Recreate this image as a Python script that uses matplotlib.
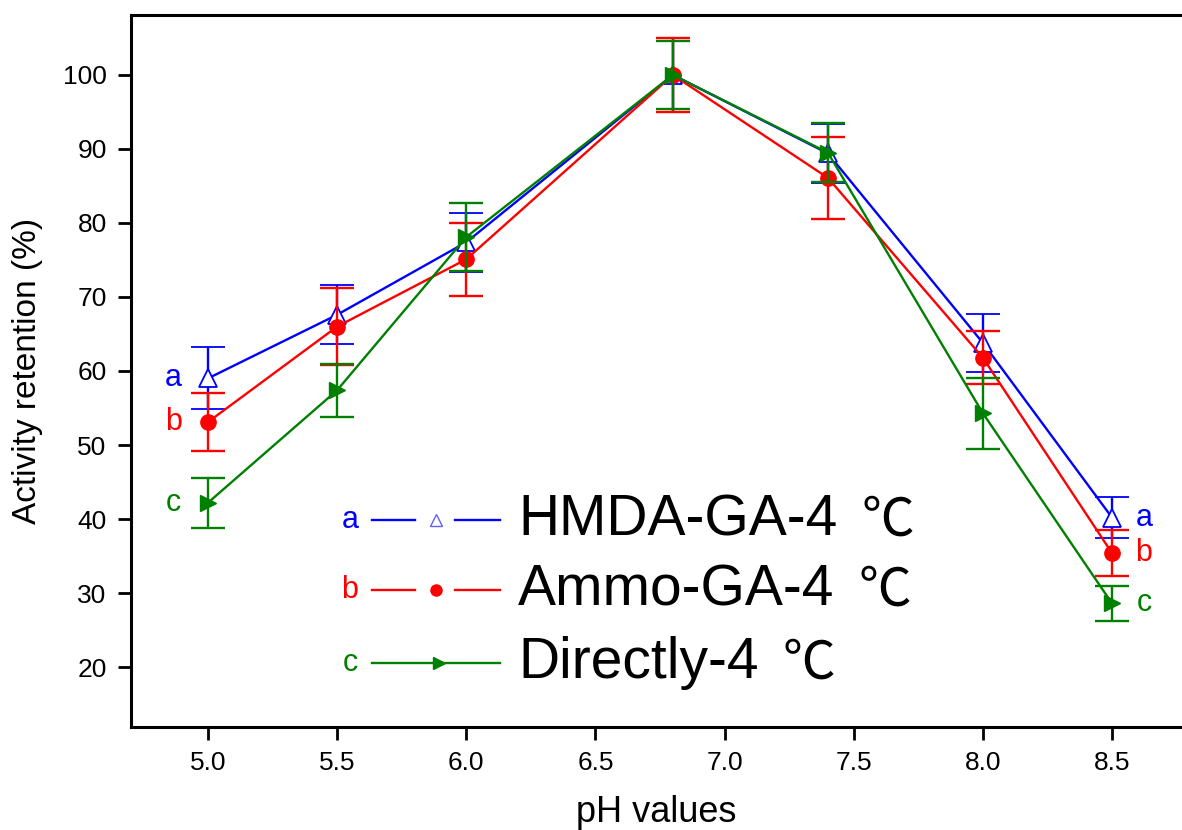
import matplotlib
matplotlib.use("Agg")
import matplotlib.pyplot as plt

# ---- data ----
ph = [5.0, 5.5, 6.0, 6.8, 7.4, 8.0, 8.5]
hmda = [59.0, 67.6, 77.4, 100.0, 89.4, 63.8, 40.2]
hmda_err = [4.2, 4.0, 4.0, 5.0, 4.0, 3.9, 2.8]
ammo = [53.1, 66.0, 75.1, 100.0, 86.1, 61.8, 35.4]
ammo_err = [3.9, 5.2, 4.9, 5.0, 5.5, 3.6, 3.1]
direct = [42.2, 57.4, 78.1, 100.0, 89.5, 54.3, 28.6]
direct_err = [3.4, 3.6, 4.6, 4.6, 4.0, 4.8, 2.4]

series_names = ["HMDA-GA-4", "Ammo-GA-4", "Directly-4"]
unit = "\u2103"
series_letters = ["a", "b", "c"]
xticks = [5.0, 5.5, 6.0, 6.5, 7.0, 7.5, 8.0, 8.5]
yticks = [20, 30, 40, 50, 60, 70, 80, 90, 100]

BLUE = "#0000FF"
RED = "#FF0000"
GREEN = "#008000"

plt.rcParams['font.family'] = ['Liberation Sans', 'Noto Sans CJK SC', 'DejaVu Sans']

fig = plt.figure(figsize=(11.82, 8.30), dpi=100)
ax = fig.add_axes([131/1182, 103/830, 1051/1182, 712/830])

common = dict(lw=1.7, elinewidth=1.7, capthick=1.7, capsize=12)
ax.errorbar(ph, hmda, yerr=hmda_err, color=BLUE, marker='^', ms=13,
            mfc='white', mec=BLUE, mew=1.3, zorder=3, **common)
ax.errorbar(ph, ammo, yerr=ammo_err, color=RED, marker='o', ms=11,
            mfc=RED, mec=RED, zorder=4, **common)
ax.errorbar(ph, direct, yerr=direct_err, color=GREEN, marker='>', ms=12,
            mfc=GREEN, mec=GREEN, zorder=5, **common)

# letter labels at ends
colors = [BLUE, RED, GREEN]
for vals, letter, c in zip([hmda, ammo, direct], series_letters, colors):
    ax.annotate(letter, xy=(ph[0], vals[0]), xytext=(-25, 0), textcoords='offset points',
                ha='center', va='center', color=c, fontsize=22)
    ax.annotate(letter, xy=(ph[-1], vals[-1]), xytext=(23, 0), textcoords='offset points',
                ha='center', va='center', color=c, fontsize=22)

# custom legend (Origin style)
rows = [0.2907, 0.1924, 0.0899]
lx_letter = 0.2084
name_texts = []
for i, (name, letter, c) in enumerate(zip(series_names, series_letters, colors)):
    yy = rows[i]
    ax.text(lx_letter, yy, letter, transform=ax.transAxes, color=c, fontsize=22,
            ha='center', va='center')
    if i < 2:
        ax.plot([0.2293, 0.2702], [yy, yy], transform=ax.transAxes, color=c, lw=1.7)
        ax.plot([0.3083, 0.3511], [yy, yy], transform=ax.transAxes, color=c, lw=1.7)
        if i == 0:
            ax.plot([0.2902], [yy], transform=ax.transAxes, marker='^', ms=9,
                    mfc='white', mec='#6060FF', mew=1.0, ls='none')
        else:
            ax.plot([0.2902], [yy], transform=ax.transAxes, marker='o', ms=8,
                    mfc=RED, mec=RED, ls='none')
    else:
        ax.plot([0.2293, 0.3511], [yy, yy], transform=ax.transAxes, color=c, lw=1.7)
        ax.plot([0.2930], [yy], transform=ax.transAxes, marker='>', ms=9,
                mfc=GREEN, mec=GREEN, ls='none')
    t = ax.text(0.3682, yy, name, transform=ax.transAxes, fontsize=41,
                ha='left', va='center', color='black')
    name_texts.append(t)

ax.set_xlim(4.702, 8.771)
ax.set_ylim(11.9, 108.1)
ax.set_xticks(xticks)
ax.set_xticklabels([f"{t:.1f}" for t in xticks])
ax.set_yticks(yticks)
ax.set_yticklabels([str(t) for t in yticks])
ax.tick_params(direction='out', length=9.5, width=2, labelsize=19, pad=8)
for s in ['left', 'bottom', 'top']:
    ax.spines[s].set_linewidth(2.2)
ax.spines['right'].set_visible(False)

ax.set_xlabel("pH values", fontsize=26, labelpad=14)
ax.set_ylabel("Activity retention (%)", fontsize=24, labelpad=14)

# place the degree-Celsius sign after each legend name
fig.canvas.draw()
renderer = fig.canvas.get_renderer()
inv = ax.transAxes.inverted()
for t, yy in zip(name_texts, rows):
    bb = t.get_window_extent(renderer)
    x_end = inv.transform((bb.x1 + 24, bb.y0))[0]
    ax.text(x_end, yy, unit, transform=ax.transAxes, fontsize=38,
            family=['Noto Sans CJK SC', 'DejaVu Sans'], fontweight='light',
            ha='left', va='center', color='black')

fig.savefig("out.png", dpi=100)
